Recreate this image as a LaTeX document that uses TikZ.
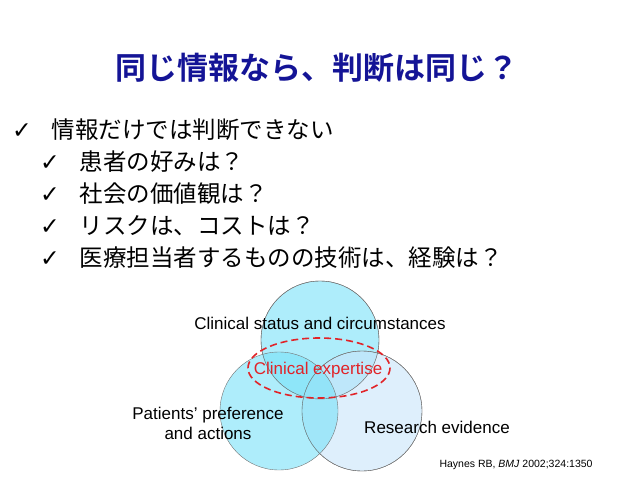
\documentclass[tikz,border=0pt]{standalone}
\usepackage{fontspec}
\setmainfont{Liberation Sans}
\newfontfamily\jpfont{Noto Sans CJK JP}
\newfontfamily\jpbold{Noto Sans CJK JP Bold}
\newfontfamily\symfont{DejaVu Sans}
\usetikzlibrary{positioning}
\definecolor{titleblue}{RGB}{20,20,150}
\definecolor{ringcyan}{RGB}{120,225,248}
\definecolor{ringpale}{RGB}{200,228,250}
\definecolor{expred}{RGB}{225,35,40}
\newcommand{\chk}{{\symfont\bfseries ✓}}
\begin{document}
\begin{tikzpicture}
      [
        x=1pt, y=-1pt,
        ring/.style={draw=black!55, thin, fill opacity=0.6},
        item/.style={anchor=west, inner sep=0pt, font=\fontsize{23.5}{27}\selectfont\jpfont},
        venn/.style={font=\fontsize{17}{20}\selectfont, align=center}
      ]
      \useasboundingbox (0,0) rectangle (638,479);
      % title
      \node [font=\fontsize{31}{36}\selectfont\jpbold, text=titleblue] (title) at (317,68) {同じ情報なら、判断は同じ？};
      % items
      \node [item] (i0) at (12,130) {\chk\hspace{20pt}情報だけでは判断できない};
      \foreach \t [count=\i] in {患者の好みは？, 社会の価値観は？, リスクは、コストは？, 医療担当者するものの技術は、経験は？} {
          \node [item] (i\i) at (40,130+32*\i) {\chk\hspace{20pt}\t};
      }
      % circles
      \fill [ringcyan, ring] (320,340) circle (59);
      \fill [ringpale, ring] (362,411) circle (60);
      \fill [ringcyan, ring] (279,411) circle (59);
      \draw [black!55, thin] (320,340) circle (59);
      \draw [black!55, thin] (362,411) circle (60);
      \draw [expred, line width=1.6pt, dash pattern=on 7pt off 4pt] (319,368) ellipse (71 and 30);
      % labels
      \node [venn] (status) at (320,323) {Clinical status and circumstances};
      \node [venn, text=expred] (expertise) at (318,370) {Clinical expertise};
      \node [venn] (patients) at (208,423) {Patients' preference\\and actions};
      \node [venn] (research) at (437,427) {Research evidence};
      \node [font=\fontsize{10.5}{12}\selectfont, anchor=west] (cite) at (436,465) {Haynes RB, \textit{BMJ} 2002;324:1350};
\end{tikzpicture}
\end{document}
